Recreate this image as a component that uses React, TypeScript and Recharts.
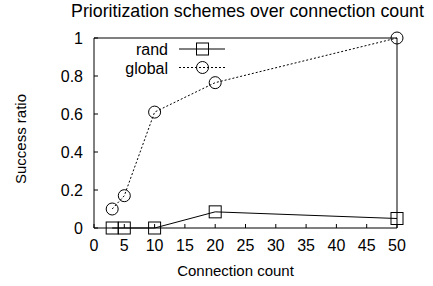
import { Label, Line, LineChart, XAxis, YAxis } from 'recharts';

// connection counts and success ratios
const connCounts = [3, 5, 10, 20, 50];
const randRatio = [0, 0, 0, 0.085, 0.05];
const globalRatio = [0.1, 0.17, 0.61, 0.765, 1];

const xTicks = [0, 5, 10, 15, 20, 25, 30, 35, 40, 45, 50];
const yTicks = [0, 0.2, 0.4, 0.6, 0.8, 1];

const FONT = '"Liberation Sans", Arial, Helvetica, sans-serif';
const INK = '#000';

const data = connCounts.map((c, i) => ({ conn: c, rand: randRatio[i], global: globalRatio[i] }));

function SquareDot(props: any) {
  const { cx, cy } = props;
  if (cx == null || cy == null) return null;
  return <rect x={cx - 6} y={cy - 6} width={12} height={12} fill="none" stroke={INK} strokeWidth={1} />;
}

function CircleDot(props: any) {
  const { cx, cy } = props;
  if (cx == null || cy == null) return null;
  return <circle cx={cx} cy={cy} r={6} fill="none" stroke={INK} strokeWidth={1} />;
}

// rotated y label, a touch below the plot centre like gnuplot puts it
function YTitle(props: any) {
  const vb = props.viewBox || {};
  const cx = (vb.x ?? 0) + 26;
  const cy = (vb.y ?? 0) + (vb.height ?? 0) / 2 + 6;
  return (
    <text x={cx} y={cy} transform={`rotate(-90 ${cx} ${cy})`} textAnchor="middle" fontSize={15} fontFamily={FONT} fill={INK}>
      Success ratio
    </text>
  );
}

// gnuplot-style key: label right-aligned, sample line with marker to the right
function GnuKey() {
  const rows = [
    { name: 'rand', dash: undefined, marker: 'square' },
    { name: 'global', dash: '2 2', marker: 'circle' },
  ];
  return (
    <svg width={160} height={40} style={{ position: 'absolute', left: 86, top: 42, overflow: 'visible' }}>
      {rows.map((r, i) => {
        const y = 7 + i * 18.5;
        return (
          <g key={r.name}>
            <text x={82} y={y + 6} textAnchor="end" fontSize={16} fontFamily={FONT} fill={INK}>{r.name}</text>
            <line x1={93} x2={139} y1={y} y2={y} stroke={INK} strokeDasharray={r.dash} />
            {r.marker === 'square'
              ? <rect x={110.5} y={y - 6} width={12} height={12} fill="none" stroke={INK} />
              : <circle cx={116.5} cy={y} r={6} fill="none" stroke={INK} />}
          </g>
        );
      })}
    </svg>
  );
}

export default function App() {
  const tickStyle = { fontSize: 16, fill: INK, fontFamily: FONT };
  const labelStyle = { fontSize: 15, fill: INK, fontFamily: FONT };
  return (
    <div style={{ position: 'absolute', left: 0, top: 0, width: 433, height: 286, background: '#fff' }}>
      <LineChart width={433} height={286} data={data} margin={{ top: 30, right: 0, bottom: 0, left: 0 }}>
        <XAxis
          xAxisId="bottom"
          dataKey="conn"
          type="number"
          domain={[0, 50]}
          ticks={xTicks}
          height={58}
          stroke={INK}
          tick={tickStyle}
          tickSize={-4}
          tickMargin={16}
          tickLine={{ stroke: INK }}
        >
          <Label value="Connection count" position="insideBottom" offset={10} dx={-10} style={labelStyle} />
        </XAxis>
        <XAxis
          xAxisId="top"
          orientation="top"
          dataKey="conn"
          type="number"
          domain={[0, 50]}
          ticks={xTicks}
          height={8}
          stroke={INK}
          tick={false}
          tickSize={-4}
          tickLine={{ stroke: INK }}
        >
          <Label value="Prioritization schemes over connection count" position="top" offset={13} dx={2} style={{ ...labelStyle, fontSize: 17.8 }} />
        </XAxis>
        <YAxis
          yAxisId="left"
          type="number"
          domain={[0, 1]}
          ticks={yTicks}
          width={94}
          stroke={INK}
          tick={tickStyle}
          tickSize={-4}
          tickMargin={15}
          tickLine={{ stroke: INK }}
        >
          <Label content={<YTitle />} />
        </YAxis>
        <YAxis
          yAxisId="right"
          orientation="right"
          type="number"
          domain={[0, 1]}
          ticks={yTicks}
          width={36}
          stroke={INK}
          tick={false}
          tickSize={-4}
          tickLine={{ stroke: INK }}
        />
        <Line
          xAxisId="bottom"
          yAxisId="left"
          dataKey="rand"
          type="linear"
          stroke={INK}
          strokeWidth={1}
          dot={<SquareDot />}
          activeDot={false}
          isAnimationActive={false}
        />
        <Line
          xAxisId="bottom"
          yAxisId="left"
          dataKey="global"
          type="linear"
          stroke={INK}
          strokeWidth={1}
          strokeDasharray="2 2"
          dot={<CircleDot />}
          activeDot={false}
          isAnimationActive={false}
        />
      </LineChart>
      <GnuKey />
    </div>
  );
}
